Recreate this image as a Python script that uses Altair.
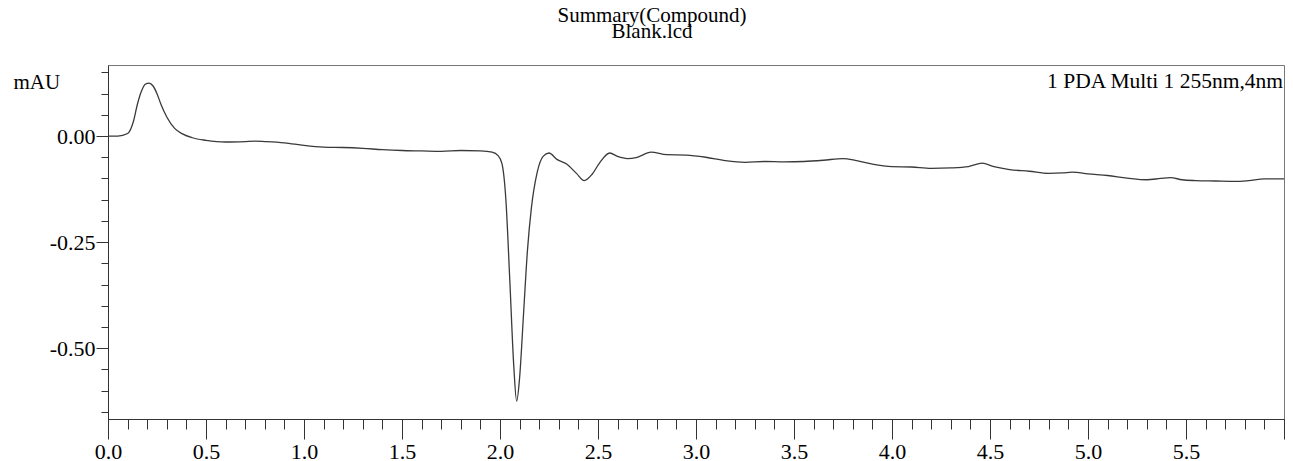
import altair as alt
import pandas as pd

# ---- data ----
times = [0.00, 0.05, 0.10, 0.13, 0.15, 0.17, 0.19, 0.21, 0.23, 0.25, 0.27, 0.30, 0.34, 0.38,
         0.43, 0.50, 0.60, 0.70, 0.75, 0.80, 0.90, 1.00, 1.10, 1.20, 1.30, 1.40, 1.50, 1.60,
         1.70, 1.80, 1.90, 1.96, 1.99, 2.01, 2.03, 2.05, 2.07, 2.085, 2.10, 2.12, 2.14, 2.16,
         2.19, 2.22, 2.25, 2.29, 2.34, 2.39, 2.43, 2.47, 2.51, 2.56, 2.60, 2.65, 2.70, 2.77,
         2.85, 2.95, 3.05, 3.15, 3.25, 3.35, 3.45, 3.55, 3.65, 3.75, 3.82, 3.90, 4.00, 4.10,
         4.20, 4.30, 4.39, 4.46, 4.52, 4.60, 4.70, 4.80, 4.87, 4.92, 5.00, 5.10, 5.20, 5.30,
         5.37, 5.42, 5.48, 5.55, 5.65, 5.75, 5.82, 5.90, 6.00]
absorbance = [0.000, 0.000, 0.006, 0.035, 0.075, 0.105, 0.122, 0.125, 0.118, 0.100, 0.075,
              0.045, 0.018, 0.005, -0.004, -0.010, -0.014, -0.013, -0.012, -0.013, -0.016,
              -0.022, -0.026, -0.027, -0.029, -0.032, -0.034, -0.035, -0.036, -0.034, -0.035,
              -0.038, -0.046, -0.065, -0.150, -0.340, -0.540, -0.625, -0.570, -0.420, -0.270,
              -0.170, -0.085, -0.048, -0.040, -0.055, -0.066, -0.088, -0.105, -0.090, -0.062,
              -0.040, -0.048, -0.053, -0.050, -0.038, -0.044, -0.045, -0.050, -0.058, -0.062,
              -0.060, -0.061, -0.060, -0.057, -0.053, -0.058, -0.066, -0.072, -0.073, -0.076,
              -0.075, -0.072, -0.064, -0.072, -0.079, -0.083, -0.088, -0.087, -0.085, -0.089,
              -0.093, -0.099, -0.103, -0.100, -0.098, -0.103, -0.105, -0.106, -0.107, -0.105,
              -0.101, -0.101]

x_major = [0.0, 0.5, 1.0, 1.5, 2.0, 2.5, 3.0, 3.5, 4.0, 4.5, 5.0, 5.5, 6.0]
x_minor = [round(0.1 * i, 1) for i in range(61)]
y_major = [0.0, -0.25, -0.50]
y_minor = [0.15, 0.10, 0.05, 0.0, -0.05, -0.10, -0.15, -0.20, -0.25, -0.30, -0.35,
           -0.40, -0.45, -0.50, -0.55, -0.60, -0.65]

title_lines = ["Summary(Compound)", "Blank.lcd"]
channel_label = ["1 PDA Multi 1 255nm,4nm"]
y_title = "mAU"

FONT = "Liberation Serif"
W, H = 1176, 354
AXC = "#333333"

df = pd.DataFrame({"t": times, "v": absorbance})
xscale = alt.Scale(domain=[0, 6.0], nice=False, zero=False)
yscale = alt.Scale(domain=[-0.667, 0.1675], nice=False, zero=False)

line = alt.Chart(df).mark_line(color="#3a3a3a", strokeWidth=1.3, interpolate="monotone").encode(
    x=alt.X("t:Q", scale=xscale, axis=alt.Axis(
        orient="bottom", values=x_major, tickSize=20, grid=False, title=None,
        labelExpr="datum.value >= 5.99 ? '' : format(datum.value, '.1f')",
        labelFont=FONT, labelFontSize=22, labelColor="black", labelPadding=2,
        labelFlush=False, domainColor=AXC, tickColor=AXC)),
    y=alt.Y("v:Q", scale=yscale, axis=alt.Axis(
        orient="left", values=y_major, tickSize=12, grid=False,
        labelExpr="replace(format(datum.value, '.2f'), '\u2212', '-')",
        labelFont=FONT, labelFontSize=22, labelColor="black", labelPadding=1,
        domainColor=AXC, tickColor=AXC,
        title=y_title, titleAngle=0, titleX=-95, titleY=23, titleAlign="left",
        titleBaseline="alphabetic", titleFont=FONT, titleFontSize=21,
        titleFontWeight="normal", titleColor="black")),
)

minor = alt.Chart(df).mark_line(opacity=0).encode(
    x=alt.X("t:Q", scale=xscale, axis=alt.Axis(
        orient="bottom", values=x_minor, tickSize=10, labels=False, domain=False,
        grid=False, title=None, tickColor=AXC)),
    y=alt.Y("v:Q", scale=yscale, axis=alt.Axis(
        orient="left", values=y_minor, tickSize=7, labels=False, domain=False,
        grid=False, title=None, tickColor=AXC)),
)

label = alt.Chart(pd.DataFrame({"txt": channel_label})).mark_text(
    align="right", baseline="alphabetic", font=FONT, fontSize=21.5, color="black", dx=-1
).encode(text="txt:N", x=alt.value(W), y=alt.value(23))

chart = alt.layer(line, minor, label).resolve_axis(
    x="independent", y="independent"
).properties(
    width=W, height=H,
    title=alt.TitleParams(text=title_lines, anchor="middle", frame="group", dx=-44,
                          font=FONT, fontSize=21, fontWeight="normal", color="black",
                          lineHeight=16, offset=23),
    padding={"left": 100, "top": 57, "right": 1, "bottom": 40},
    autosize=alt.AutoSizeParams(type="none"),
).configure_view(stroke="#777777", strokeWidth=1)

chart.save("out.html", embed_options={"renderer": "svg", "actions": False})
